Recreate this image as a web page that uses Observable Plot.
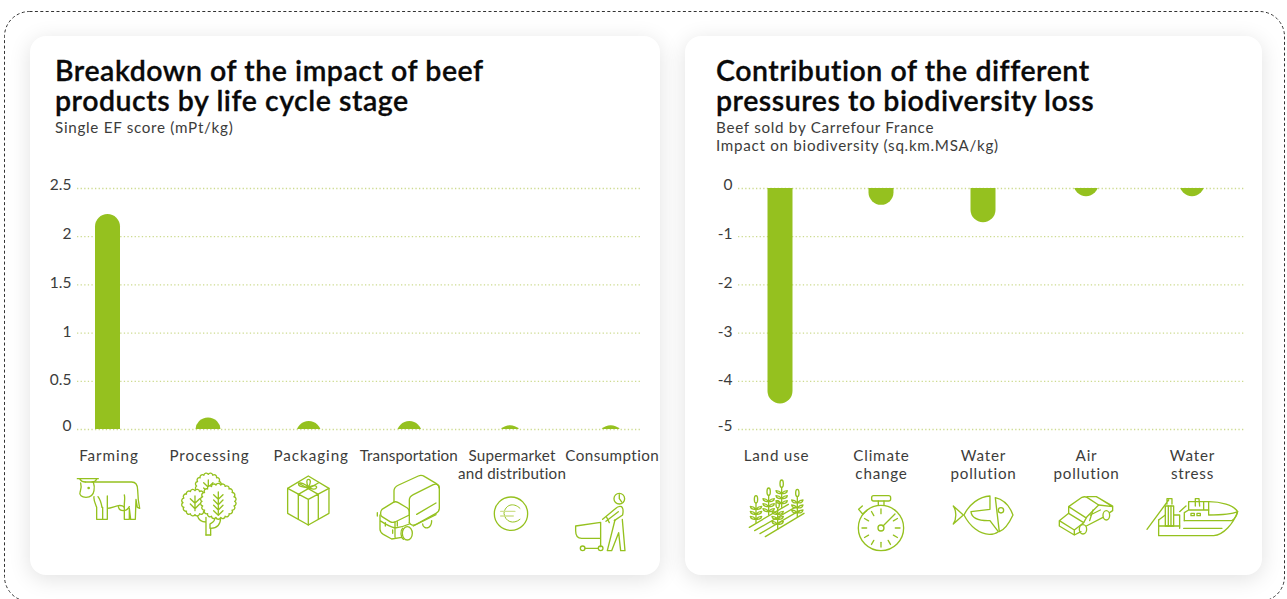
<!DOCTYPE html>
<html><head><meta charset="utf-8">
<script src="https://cdn.jsdelivr.net/npm/d3@7"></script>
<script src="https://cdn.jsdelivr.net/npm/@observablehq/plot@0.6"></script>
<style>
html,body{margin:0;padding:0;background:#fff;}
#page{position:relative;width:1287px;height:599px;overflow:hidden;font-family:Lato,sans-serif;color:#3c3c3b;}
.card{position:absolute;top:36px;height:539px;background:#fff;border-radius:16px;box-shadow:0 4px 22px rgba(0,0,0,.12);}
.title{position:absolute;top:54.5px;font-size:28.5px;line-height:30px;font-weight:600;-webkit-text-stroke:.3px #0a0a0a;color:#0a0a0a;white-space:pre;letter-spacing:.53px;}
.sub{position:absolute;top:117.6px;font-size:15.2px;line-height:18px;color:#3c3c3b;white-space:pre;letter-spacing:.71px;}
.chart{position:absolute;top:0;}
.chart svg{overflow:visible;display:block;}
#icons{position:absolute;left:0;top:0;pointer-events:none;}
#icons *{fill:none;stroke:#95c11f;stroke-width:4;stroke-linejoin:round;stroke-linecap:round;}
#icons .w{fill:#fff;}
#icons .thin{stroke:#cfe08f;}
</style></head>
<body><div id="page">
<div class="card" style="left:30px;width:630px"></div>
<div class="card" style="left:685px;width:577px"></div>
<div class="title" style="left:55px">Breakdown of the impact of beef
products by life cycle stage</div>
<div class="sub" style="left:55px">Single EF score (mPt/kg)</div>
<div class="title" style="left:716px">Contribution of the different
pressures to biodiversity loss</div>
<div class="sub" style="left:716px">Beef sold by Carrefour France
Impact on biodiversity (sq.km.MSA/kg)</div>
<div class="chart" id="c1" style="left:0"></div>
<div class="chart" id="c2" style="left:660px"></div>
<svg id="icons" width="1287" height="599" viewBox="0 0 1287 599">
  <rect x="4.5" y="11.5" width="1280" height="590" rx="25" style="stroke:#333;stroke-width:1;stroke-dasharray:3 2.4;stroke-linecap:butt"/>
  <!-- cow -->
  <g transform="translate(30,400) scale(.3333)">
    <path d="M142 236H205M150 238C155 246 160 246 166 246M200 238C196 246 190 246 186 246"/>
    <path d="M166 246H190C193 255 194 263 192 272C190 285 180 292 168 292C155 292 147 285 150 277C153 268 156 262 152 249"/>
    <circle cx="176" cy="264" r="2"/>
    <path d="M190 246H305C318 246 323 256 323 270L325 300L329 325L322 322L318 298L316 358H302L298 325V358H283V322C282 308 286 296 283 285"/>
    <path d="M283 322C270 308 250 325 232 325M232 288V358H218V322M218 325V358H200V322C195 310 190 300 192 290M204 290C212 300 214 310 216 322"/>
    <path d="M265 320C268 336 290 336 298 320"/>
  </g>
  <!-- trees -->
  <g transform="translate(30,400) scale(.3333)" id="trees">
    <path d="M528 405V352M542 405V385C560 385 572 378 572 352M555 352C555 368 545 368 540 372V385M528 366C515 366 505 358 502 346"/>
    <path d="M528 405H542"/>
  </g>
  <!-- gift -->
  <g transform="translate(30,400) scale(.3333)">
    <path d="M835 228L897 265V340L835 375L773 340V265Z"/>
    <path d="M773 265L835 298L897 265M835 298V375M805 283V357M865 283V357"/>
    <path d="M805 249L865 283M865 249L835 266L805 283"/>
    <path d="M835 262C815 262 805 258 806 252C810 245 828 252 835 262C828 245 830 238 836 238C842 238 844 248 835 262C848 254 860 256 860 262C858 270 845 268 835 262"/>
  </g>
  <!-- truck -->
  <g transform="translate(350,400) scale(.3333)">
    <path d="M132 305V272C132 264 138 259 146 255L205 228C212 225 218 226 224 230L258 250C265 254 268 258 268 266V325C268 332 265 336 258 340L200 372C190 378 182 376 178 368"/>
    <path d="M178 368V300C178 292 182 288 190 284L250 254C260 250 268 254 268 264"/>
    <path d="M200 343L258 309M190 378L258 344"/>
    <path d="M96 328L130 307C135 304 140 305 145 308L172 324C176 327 178 330 178 336V345L135 366C130 368 125 368 120 365L96 350C91 347 90 335 96 328Z"/>
    <path d="M90 345V388C90 395 95 400 100 403L125 417L155 412M135 366V412M90 362C105 372 120 380 135 384C145 383 165 378 178 372"/>
    <ellipse cx="172" cy="400" rx="15" ry="20"/><path d="M158 385C150 392 152 412 160 418"/>
    <path d="M218 372C218 382 228 386 236 382C242 378 245 370 245 362"/>
    <path d="M82 338V348M106 368V378M128 390V400M142 365V378"/>
  </g>
  <!-- euro -->
  <g transform="translate(350,400) scale(.3333)">
    <circle cx="483" cy="341" r="50"/>
    <path d="M510 325C490 305 465 315 462 340C465 365 490 375 510 358" style="stroke-width:3"/>
    <path class="thin" d="M452 334H495M452 348H490"/>
  </g>
  <!-- shopper -->
  <g transform="translate(350,400) scale(.3333)">
    <circle cx="808" cy="296" r="16"/><path d="M808 284V296L815 306"/>
    <path d="M758 358L796 326C802 320 810 318 815 320C820 325 820 335 818 345L793 362M768 364L805 335M770 352L778 368"/>
    <path d="M795 360L772 452H785L806 398L812 452H825L817 358"/>
    <path d="M677 378L752 367V415H695C682 415 677 405 677 392ZM752 367V440"/>
    <circle cx="698" cy="445" r="7"/><circle cx="752" cy="445" r="7"/><path d="M705 445H745"/>
  </g>
  <!-- crops -->
  <g transform="translate(690,400) scale(.3333)" id="crops">
    <path d="M178 382L295 313M194 392L315 322M210 401L328 332M226 410L342 340"/>
  </g>
  <!-- stopwatch -->
  <g transform="translate(690,400) scale(.3333)" id="watch">
    <circle cx="573" cy="384" r="68"/>
    <rect x="545" y="287" width="57" height="16" rx="6"/>
    <path d="M565 303V316M582 303V316"/>
    <path d="M517 318L506 328L518 342L530 332"/>
    <circle cx="573" cy="384" r="9"/>
    <path d="M579 378L615 342"/>
  </g>
  <!-- fish -->
  <g transform="translate(690,400) scale(.3333)">
    <path d="M790 318L820 345L790 372C800 358 800 332 790 318Z"/>
    <path d="M822 345C838 312 868 290 900 288V328L843 335C845 355 868 363 900 362L925 395C915 403 905 403 898 403C870 403 840 380 822 345Z"/>
    <path d="M916 293C945 300 960 320 969 345C955 375 942 390 928 395Z"/>
    <circle cx="933" cy="331" r="8"/>
  </g>
  <!-- car -->
  <g transform="translate(987,400) scale(.3333)">
    <path d="M217 362V378L262 405L282 395M217 362L245 340L290 368L262 390V405M217 362L262 390"/>
    <path d="M245 340L245 320L285 292C290 290 296 290 300 292L335 315L300 350L290 368M245 320L295 352"/>
    <ellipse cx="288" cy="388" rx="11" ry="14"/>
    <ellipse cx="358" cy="346" rx="10" ry="14"/>
    <path d="M298 378L348 352M368 338L377 332V318L328 290H300M330 291L377 320M335 315L377 320M308 362L318 330M310 345L340 330"/>
  </g>
  <!-- boat -->
  <g transform="translate(987,400) scale(.3333)">
    <path d="M515 360V407H680C710 405 740 370 752 335C740 315 700 305 665 305H650"/>
    <path d="M515 360L535 345M515 378H578M590 385H705M592 362H735C745 355 750 345 752 335M665 305V345C690 345 730 345 752 335"/>
    <path d="M592 362V338L605 330H650V305H605V330M650 330H665"/>
    <rect x="612" y="340" width="10" height="7"/><rect x="630" y="340" width="10" height="7"/>
    <path d="M625 318V296H636L638 318"/>
    <path d="M480 388L545 300M540 312V296H555V312"/>
    <rect x="535" y="318" width="25" height="60"/><path d="M544 318V378M552 318V378M560 345H578V385M578 335L597 318"/>
  </g>
</svg>
</div>
<script>
// ---------- data ----------
const stages = ["Farming", "Processing", "Packaging", "Transportation", "Supermarket\nand distribution", "Consumption"];
const stageScores = [2.23, 0.12, 0.083, 0.083, 0.04, 0.04];
const stageTicks = [0, 0.5, 1, 1.5, 2, 2.5];

const pressures = ["Land use", "Climate\nchange", "Water\npollution", "Air\npollution", "Water\nstress"];
const pressureScores = [-4.47, -0.35, -0.71, -0.17, -0.17];
const pressureTicks = [0, -1, -2, -3, -4, -5];

// ---------- options ----------
const GREEN = "#95c11f";
const GRID = "#cddb90";
const INK = "#3c3c3b";
const FONT = "Lato, sans-serif";

function barChart({categories, values, ticks, highTicks, domain, centers, spacing, shift, marginLeft, marginRight, width, overshoot}) {
  const rows = categories.map((label, i) => ({i, label, value: values[i]}));
  const lowTicks = ticks.filter(t => !highTicks.includes(t));
  const axis = (tickValues, dy) => Plot.axisY({ticks: tickValues, anchor: "left", tickSize: 0, tickPadding: 6, dy,
    fontSize: 15.5, color: INK, tickFormat: d => String(d), label: null});
  const chart = Plot.plot({
    width, height: 599,
    marginTop: 188, marginBottom: 170, marginLeft, marginRight,
    style: {fontFamily: FONT, background: "transparent", overflow: "visible"},
    x: {type: "linear", domain: centers.map((_, i) => i), range: centers, axis: null},
    y: {domain, axis: null},
    marks: [
      Plot.ruleY(ticks, {stroke: GRID, strokeWidth: 1.3, strokeDasharray: "1.3 2.3"}),
      axis(highTicks, -3),
      axis(lowTicks, -1.5),
      Plot.rect(rows, {
        x1: "i", x2: "i", insetLeft: -12.5, insetRight: -12.5,
        y1: overshoot, y2: "value",
        fill: GREEN, rx: 12.5, clip: true
      }),
      Plot.text(rows, {
        x: "i", text: "label", frameAnchor: "bottom", lineAnchor: "top", dy: 18,
        fontSize: 15.2, lineHeight: 1.22, fill: INK, className: "cat"
      })
    ]
  });
  chart.querySelectorAll(".cat text").forEach((t, i) => {
    t.style.letterSpacing = spacing[i] + "px";
    t.setAttribute("transform", `${t.getAttribute("transform") || ""} translate(${shift[i]},0)`);
  });
  return chart;
}

document.getElementById("c1").append(barChart({
  categories: stages, values: stageScores, ticks: stageTicks, highTicks: [0, 2, 2.5], domain: [0, 2.5],
  centers: [107.5, 208, 308.7, 409.3, 510, 610.7], spacing: [0.95, 0.9, 0.95, 0.08, 0.2, 0.42],
  shift: [1, 1, 2, -1, 1.5, 1],
  marginLeft: 77, marginRight: 19, width: 660, overshoot: () => -1
}));
document.getElementById("c2").append(barChart({
  categories: pressures, values: pressureScores, ticks: pressureTicks, highTicks: [0, -1, -5], domain: [-5, 0],
  centers: [120, 221, 323, 426, 532], spacing: [0.8, 0.8, 0.8, 0.8, 0.8],
  shift: [-4, 0, 0, 0, 0],
  marginLeft: 78, marginRight: 43, width: 627, overshoot: () => 1
}));

// ---------- decorative icons (not chart data) ----------
const NS = "http://www.w3.org/2000/svg";
function add(parent, tag, attrs) {
  const el = document.createElementNS(NS, tag);
  for (const k in attrs) el.setAttribute(k, attrs[k]);
  parent.appendChild(el); return el;
}
function scallop(parent, cx, cy, r, n) {
  let d = "";
  for (let i = 0; i <= n; i++) {
    const a = 2 * Math.PI * i / n, x = cx + r * Math.cos(a), y = cy + r * Math.sin(a);
    d += i ? `A${(r * Math.PI / n * 1.05).toFixed(1)} ${(r * Math.PI / n * 1.05).toFixed(1)} 0 0 1 ${x.toFixed(1)} ${y.toFixed(1)}` : `M${x.toFixed(1)} ${y.toFixed(1)}`;
  }
  add(parent, "path", {d: d + "Z", class: "w"});
}
function veins(parent, cx, top, bot) {
  let d = `M${cx} ${top}V${bot}`;
  for (let y = top + 8; y < bot - 4; y += 16) d += `M${cx - 14} ${y}L${cx} ${y + 14}L${cx + 14} ${y}`;
  add(parent, "path", {d});
}
const trees = document.getElementById("trees");
scallop(trees, 535, 258, 35, 16); veins(trees, 535, 240, 272);
scallop(trees, 495, 308, 36, 16); veins(trees, 495, 288, 332);
scallop(trees, 565, 304, 49, 22); veins(trees, 565, 276, 340);

function plant(parent, x, top, bot) {
  add(parent, "path", {d: `M${x} ${top + 22}V${bot}`});
  add(parent, "ellipse", {cx: x, cy: top + 11, rx: 5, ry: 11});
  for (let y = top + 26; y < bot - 22; y += 15) {
    add(parent, "path", {d: `M${x} ${y + 14}C${x - 6} ${y + 8} ${x - 10} ${y + 6} ${x - 17} ${y + 6}C${x - 16} ${y + 14} ${x - 8} ${y + 16} ${x} ${y + 14}`});
    add(parent, "path", {d: `M${x} ${y + 14}C${x + 6} ${y + 8} ${x + 10} ${y + 6} ${x + 17} ${y + 6}C${x + 16} ${y + 14} ${x + 8} ${y + 16} ${x} ${y + 14}`});
  }
}
const crops = document.getElementById("crops");
[[198,287,368],[236,264,345],[275,240,322],[322,268,350],[263,302,388]].forEach(p => plant(crops, ...p));

const watch = document.getElementById("watch");
for (let i = 0; i < 12; i++) {
  if (i === 1) continue;
  const a = 2 * Math.PI * i / 12 - Math.PI / 2, c = Math.cos(a), s = Math.sin(a);
  add(watch, "path", {d: `M${573 + 43 * c} ${384 + 43 * s}L${573 + 57 * c} ${384 + 57 * s}`});
}
</script>
</body></html>
